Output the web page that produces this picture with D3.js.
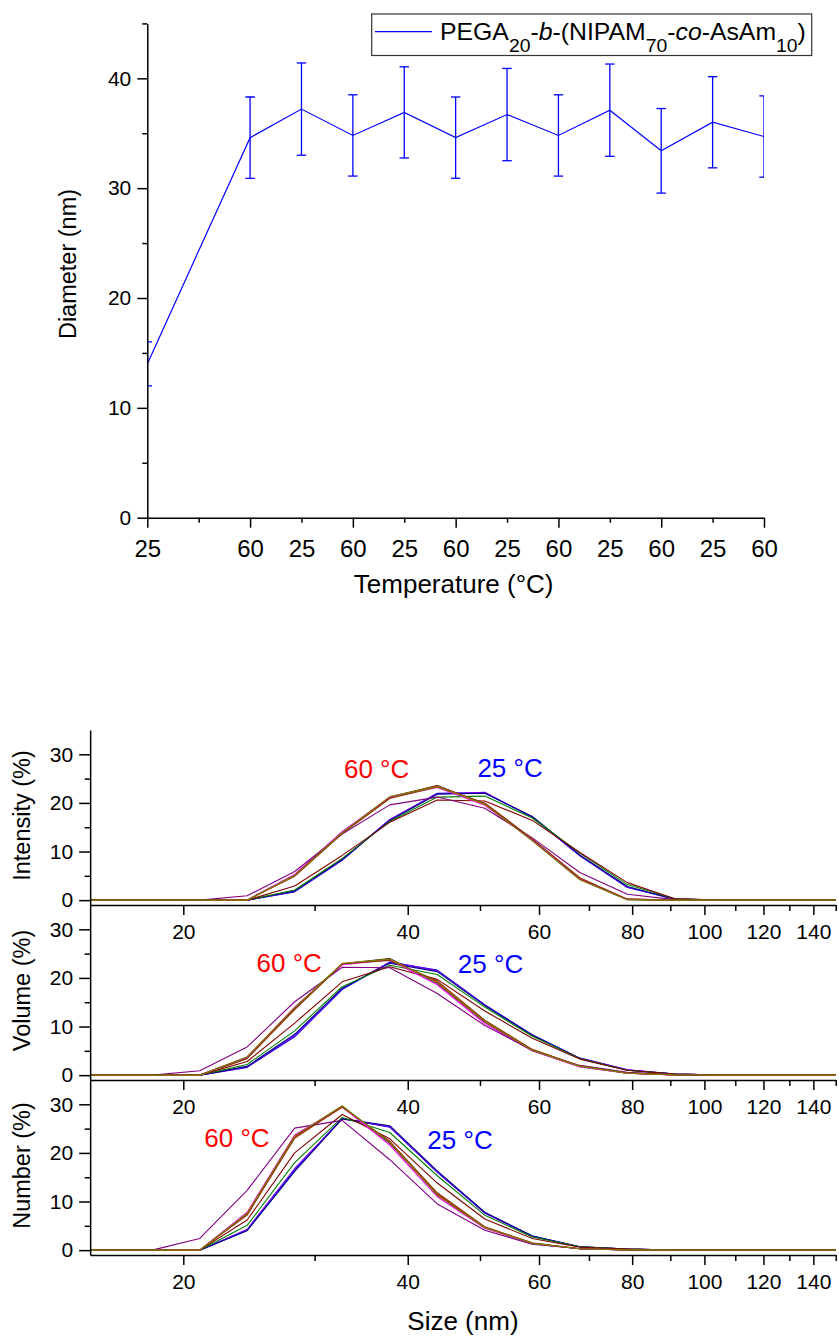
<!DOCTYPE html>
<html>
<head>
<meta charset="utf-8">
<script src="https://cdn.jsdelivr.net/npm/d3@7"></script>
<style>
  html, body { margin: 0; padding: 0; background: #fff; }
  svg { display: block; font-family: Arial, "Liberation Sans", Helvetica, sans-serif; }
</style>
</head>
<body>
<svg id="fig" width="839" height="1336"></svg>
<script>
// ---------- Diameter over the heating / cooling cycles ----------
const runPos = [0, 2, 3, 4, 5, 6, 7, 8, 9, 10, 11, 12];
const tempTickLabels = ["25", "", "60", "25", "60", "25", "60", "25", "60", "25", "60", "25", "60"];
const diameter = [14.0, 34.6, 37.2, 34.8, 36.9, 34.6, 36.7, 34.8, 37.1, 33.4, 36.0, 34.7];
const diameterErr = [2.0, 3.7, 4.2, 3.7, 4.15, 3.7, 4.2, 3.7, 4.2, 3.85, 4.15, 3.7];
const diameterTicks = [0, 5, 10, 15, 20, 25, 30, 35, 40, 45];

// ---------- DLS size distributions ----------
const sizeBins = [13.54, 15.69, 18.17, 21.04, 24.36, 28.21, 32.67, 37.84, 43.82, 50.75, 58.77, 68.06, 78.82, 91.28, 105.7, 122.4, 141.8, 164.2];
const sizeMajorTicks = [20, 40, 60, 80, 100, 120, 140];
const sizeMinorTicks = [30, 50, 70, 90, 110, 130, 150];
const percentTicks = [0, 5, 10, 15, 20, 25, 30];

const colors25 = ["#0000ff", "#8000ff", "#000080", "#008000", "#800000"];
const colors60 = ["#000000", "#ff0000", "#ff00ff", "#800080", "#804000", "#808000"];

const intensity25 = [
  [0, 0, 0, 0, 0, 1.7, 8.2, 16.5, 22.0, 22.1, 17.1, 9.1, 2.6, 0.2, 0, 0, 0, 0],
  [0, 0, 0, 0, 0, 1.8, 8.3, 16.6, 21.9, 22.2, 17.0, 9.2, 2.7, 0.2, 0, 0, 0, 0],
  [0, 0, 0, 0, 0, 1.9, 8.4, 16.4, 21.8, 22.0, 17.2, 9.3, 2.8, 0.2, 0, 0, 0, 0],
  [0, 0, 0, 0, 0, 2.1, 8.6, 16.2, 21.2, 21.4, 16.9, 9.7, 3.2, 0.3, 0, 0, 0, 0],
  [0, 0, 0, 0, 0, 2.9, 9.2, 16.0, 20.6, 20.4, 16.4, 9.8, 3.6, 0.3, 0, 0, 0, 0]
];
const intensity60 = [
  [0, 0, 0, 0, 0, 5.2, 14.0, 21.2, 23.6, 19.8, 12.3, 4.3, 0.1, 0, 0, 0, 0, 0],
  [0, 0, 0, 0, 0, 5.0, 13.8, 21.0, 23.5, 19.9, 12.5, 4.4, 0.2, 0, 0, 0, 0, 0],
  [0, 0, 0, 0, 0, 5.3, 14.1, 21.1, 23.2, 19.5, 12.4, 4.5, 0.2, 0, 0, 0, 0, 0],
  [0, 0, 0, 0, 0.9, 5.9, 13.6, 19.6, 21.2, 18.9, 12.8, 5.7, 1.2, 0.1, 0, 0, 0, 0],
  [0, 0, 0, 0, 0, 4.9, 13.7, 20.9, 23.3, 20.0, 12.6, 4.6, 0.2, 0, 0, 0, 0, 0],
  [0, 0, 0, 0, 0, 5.1, 13.9, 21.3, 23.4, 19.7, 12.2, 4.2, 0.1, 0, 0, 0, 0, 0]
];

const volume25 = [
  [0, 0, 0, 0, 1.6, 7.9, 17.6, 23.2, 21.6, 14.5, 8.3, 3.5, 1.1, 0.2, 0, 0, 0, 0],
  [0, 0, 0, 0, 1.7, 8.1, 17.8, 23.3, 21.5, 14.4, 8.2, 3.5, 1.1, 0.2, 0, 0, 0, 0],
  [0, 0, 0, 0, 1.8, 8.4, 17.9, 23.0, 21.3, 14.3, 8.2, 3.4, 1.0, 0.2, 0, 0, 0, 0],
  [0, 0, 0, 0, 2.2, 9.1, 18.2, 22.6, 20.7, 14.0, 8.0, 3.4, 1.0, 0.2, 0, 0, 0, 0],
  [0, 0, 0, 0, 2.8, 10.7, 19.2, 22.3, 19.7, 13.2, 7.6, 3.3, 1.0, 0.2, 0, 0, 0, 0]
];
const volume60 = [
  [0, 0, 0, 0, 3.7, 13.8, 22.9, 24.0, 18.9, 10.9, 5.0, 1.8, 0.4, 0.05, 0, 0, 0, 0],
  [0, 0, 0, 0, 3.5, 13.6, 22.8, 23.8, 19.2, 11.1, 5.2, 1.9, 0.4, 0.05, 0, 0, 0, 0],
  [0, 0, 0, 0, 3.6, 14.0, 22.7, 23.7, 18.6, 10.6, 5.0, 1.7, 0.4, 0.05, 0, 0, 0, 0],
  [0, 0, 0, 0.9, 5.8, 15.1, 22.2, 22.1, 16.8, 10.2, 5.1, 2.0, 0.6, 0.1, 0, 0, 0, 0],
  [0, 0, 0, 0, 3.4, 13.5, 22.9, 23.6, 19.4, 11.3, 5.3, 1.9, 0.5, 0.05, 0, 0, 0, 0],
  [0, 0, 0, 0, 3.8, 13.9, 23.0, 23.9, 19.0, 11.0, 5.1, 1.8, 0.4, 0.05, 0, 0, 0, 0]
];

const number25 = [
  [0, 0, 0, 0, 4.1, 16.5, 27.1, 25.3, 16.0, 7.7, 2.9, 0.7, 0.2, 0, 0, 0, 0, 0],
  [0, 0, 0, 0, 4.3, 16.8, 27.0, 25.4, 16.1, 7.6, 2.8, 0.7, 0.2, 0, 0, 0, 0, 0],
  [0, 0, 0, 0, 4.0, 16.2, 27.0, 25.6, 16.3, 7.8, 2.9, 0.7, 0.2, 0, 0, 0, 0, 0],
  [0, 0, 0, 0, 5.1, 18.0, 27.3, 24.2, 15.3, 7.2, 2.7, 0.7, 0.2, 0, 0, 0, 0, 0],
  [0, 0, 0, 0, 6.2, 20.0, 27.9, 22.9, 13.8, 6.4, 2.4, 0.6, 0.2, 0, 0, 0, 0, 0]
];
const number60 = [
  [0, 0, 0, 0, 7.5, 23.4, 29.6, 22.0, 11.4, 4.6, 1.4, 0.3, 0.05, 0, 0, 0, 0, 0],
  [0, 0, 0, 0, 7.3, 23.2, 29.4, 22.3, 11.6, 4.7, 1.4, 0.3, 0.05, 0, 0, 0, 0, 0],
  [0, 0, 0, 0, 7.8, 23.7, 29.5, 21.6, 11.0, 4.5, 1.3, 0.3, 0.05, 0, 0, 0, 0, 0],
  [0, 0, 0, 2.4, 12.3, 25.1, 26.7, 18.6, 9.5, 4.1, 1.2, 0.3, 0.05, 0, 0, 0, 0, 0],
  [0, 0, 0, 0, 7.2, 23.0, 29.5, 22.4, 11.8, 4.8, 1.5, 0.3, 0.05, 0, 0, 0, 0, 0],
  [0, 0, 0, 0, 7.6, 23.5, 29.7, 22.1, 11.3, 4.6, 1.4, 0.3, 0.05, 0, 0, 0, 0, 0]
];

// ---------- drawing ----------
const svg = d3.select("#fig");
const defs = svg.append("defs");

function styleAxis(g, size) {
  g.attr("font-size", null).attr("font-family", null);
  g.selectAll("path, line").attr("stroke", "#000").attr("stroke-width", 1.5);
  g.selectAll("text").attr("font-size", size).attr("fill", "#000");
}

// ===== Top: hydrodynamic diameter per measurement =====
const xT = d3.scaleLinear().domain([0, 12]).range([147.3, 764]);
const yT = d3.scaleLinear().domain([0, 45]).range([517.7, 23.4]);

defs.append("clipPath").attr("id", "clipTop")
  .append("rect")
  .attr("x", xT(0)).attr("y", 0)
  .attr("width", xT(12) - xT(0)).attr("height", yT(0) + 1);

const topPlot = svg.append("g").attr("clip-path", "url(#clipTop)");

topPlot.append("path")
  .datum(diameter)
  .attr("fill", "none")
  .attr("stroke", "#0000ff")
  .attr("stroke-width", 1.2)
  .attr("d", d3.line().x((d, i) => xT(runPos[i])).y(d => yT(d)));

const capHalf = 4.7;
const bars = topPlot.selectAll("g.errbar")
  .data(diameter.map((d, i) => ({ x: runPos[i], v: d, e: diameterErr[i] })))
  .join("g").attr("class", "errbar")
  .attr("stroke", "#0000ff").attr("stroke-width", 1.3);
bars.append("line")
  .attr("x1", d => xT(d.x)).attr("x2", d => xT(d.x))
  .attr("y1", d => yT(d.v - d.e)).attr("y2", d => yT(d.v + d.e));
bars.append("line")
  .attr("x1", d => xT(d.x) - capHalf).attr("x2", d => xT(d.x) + capHalf)
  .attr("y1", d => yT(d.v + d.e)).attr("y2", d => yT(d.v + d.e));
bars.append("line")
  .attr("x1", d => xT(d.x) - capHalf).attr("x2", d => xT(d.x) + capHalf)
  .attr("y1", d => yT(d.v - d.e)).attr("y2", d => yT(d.v - d.e));

const gxT = svg.append("g")
  .attr("transform", `translate(0,${yT(0)})`)
  .call(d3.axisBottom(xT).tickValues(d3.range(0, 13)).tickSizeInner(10).tickSizeOuter(0)
    .tickFormat(i => tempTickLabels[i]));
styleAxis(gxT, 24);
gxT.selectAll(".tick").filter(d => d % 2 === 1).select("line").attr("y2", 5);
gxT.selectAll(".tick text").attr("y", 39).attr("dy", null);

const gyT = svg.append("g")
  .attr("transform", `translate(${xT(0)},0)`)
  .call(d3.axisLeft(yT).tickValues(diameterTicks).tickSizeInner(10).tickSizeOuter(0)
    .tickFormat(d => d % 10 === 0 ? d : ""));
styleAxis(gyT, 21);
gyT.selectAll(".tick").filter(d => d % 10 !== 0).select("line").attr("x2", -5);
gyT.selectAll(".tick text").attr("x", -16);

svg.append("text")
  .attr("transform", `translate(76,264) rotate(-90)`)
  .attr("text-anchor", "middle")
  .attr("font-size", 23.5)
  .text("Diameter (nm)");

svg.append("text")
  .attr("x", (xT(0) + xT(12)) / 2 - 2).attr("y", 593)
  .attr("text-anchor", "middle")
  .attr("font-size", 26)
  .text("Temperature (°C)");

// legend
const legend = svg.append("g");
legend.append("rect")
  .attr("x", 371.7).attr("y", 14).attr("width", 440).attr("height", 41.5)
  .attr("fill", "#fff").attr("stroke", "#333").attr("stroke-width", 1.2);
legend.append("line")
  .attr("x1", 375).attr("x2", 432).attr("y1", 31.7).attr("y2", 31.7)
  .attr("stroke", "#0000ff").attr("stroke-width", 1.2);
const legText = legend.append("text").attr("font-size", 23).attr("fill", "#000");
const parts = [
  { t: "PEGA" }, { t: "20", sub: true }, { t: "-" }, { t: "b", it: true },
  { t: "-(NIPAM" }, { t: "70", sub: true }, { t: "-" }, { t: "co", it: true },
  { t: "-AsAm" }, { t: "10", sub: true }, { t: ")" }
];
let shifted = false;
parts.forEach(p => {
  const ts = legText.append("tspan").text(p.t);
  if (p.sub) { ts.attr("font-size", 18).attr("dy", 12); shifted = true; }
  else if (shifted) { ts.attr("dy", -12); shifted = false; }
  if (p.it) ts.attr("font-style", "italic");
});
const legW = legText.node().getBBox().width;
legText.attr("transform", `translate(440,39.5) scale(${366 / legW},1)`);

// ===== Bottom: size distributions =====
const xB = d3.scaleLog().domain([15, 150]).range([90.15, 835.7]);
const panelH = 175;
const panelTop0 = 730;

const panels = [
  { title: "Intensity (%)", s25: intensity25, s60: intensity60, at60: [32.85, 25.1], at25: [49.6, 25.4] },
  { title: "Volume (%)", s25: volume25, s60: volume60, at60: [25.08, 21.3], at25: [46.7, 21.0] },
  { title: "Number (%)", s25: number25, s60: number60, at60: [21.34, 21.2], at25: [42.5, 20.75] }
];

panels.forEach((p, k) => {
  const top = panelTop0 + k * panelH;
  const y = d3.scaleLinear().domain([-1, 35]).range([top + panelH, top]);
  const clipId = `clipPanel${k}`;
  defs.append("clipPath").attr("id", clipId)
    .append("rect")
    .attr("x", xB.range()[0]).attr("y", top)
    .attr("width", xB.range()[1] - xB.range()[0]).attr("height", panelH);

  const line = d3.line().x((d, i) => xB(sizeBins[i])).y(d => y(d));
  const plot = svg.append("g").attr("clip-path", `url(#${clipId})`);
  const series = [
    ...p.s25.map((v, i) => ({ v, c: colors25[i] })),
    ...p.s60.map((v, i) => ({ v, c: colors60[i] }))
  ];
  plot.selectAll("path.dist")
    .data(series)
    .join("path").attr("class", "dist")
    .attr("fill", "none")
    .attr("stroke", d => d.c)
    .attr("stroke-width", 1.1)
    .attr("stroke-linejoin", "round")
    .attr("d", d => line(d.v));

  // axes
  const gx = svg.append("g")
    .attr("transform", `translate(0,${top + panelH})`)
    .call(d3.axisBottom(xB)
      .tickValues([...sizeMajorTicks, ...sizeMinorTicks])
      .tickSizeInner(10).tickSizeOuter(0)
      .tickFormat(d => sizeMajorTicks.includes(d) ? d : ""));
  styleAxis(gx, 21);
  gx.selectAll(".tick").filter(d => sizeMinorTicks.includes(d)).select("line").attr("y2", 6);
  gx.selectAll(".tick text").attr("y", 33.5).attr("dy", null);

  const gy = svg.append("g")
    .attr("transform", `translate(${xB.range()[0]},0)`)
    .call(d3.axisLeft(y).tickValues(percentTicks).tickSizeInner(11).tickSizeOuter(0)
      .tickFormat(d => d % 10 === 0 ? d : ""));
  styleAxis(gy, 21);
  gy.selectAll(".tick").filter(d => d % 10 !== 0).select("line").attr("x2", -5.5);
  gy.selectAll(".tick text").attr("x", -17);

  svg.append("text")
    .attr("transform", `translate(30,${top + panelH / 2 - 2}) rotate(-90)`)
    .attr("text-anchor", "middle")
    .attr("font-size", 23.5)
    .text(p.title);

  svg.append("text")
    .attr("x", xB(p.at60[0])).attr("y", y(p.at60[1]))
    .attr("font-size", 26).attr("fill", "#ff0000")
    .text("60 °C");
  svg.append("text")
    .attr("x", xB(p.at25[0])).attr("y", y(p.at25[1]))
    .attr("font-size", 26).attr("fill", "#0000ff")
    .text("25 °C");
});

svg.append("text")
  .attr("x", (xB.range()[0] + xB.range()[1]) / 2).attr("y", 1330)
  .attr("text-anchor", "middle")
  .attr("font-size", 26)
  .text("Size (nm)");
</script>
</body>
</html>
